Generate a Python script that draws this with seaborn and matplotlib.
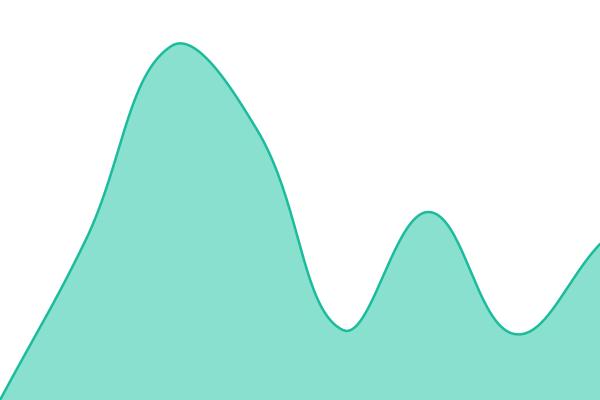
import numpy as np
import pandas as pd
import matplotlib
matplotlib.use("Agg")
import matplotlib.pyplot as plt
import seaborn as sns

# data (value axis 0..100, 8 evenly spaced points)
steps = [0, 1, 2, 3, 4, 5, 6, 7]
values = [0, 40, 88.5, 67.5, 17.5, 47, 16.5, 39]

line_color = "#1abc9c"
fill_color = "#8ae0cf"


def smooth(xs, ys, tension=0.4, n=40):
    # bezier spline through the points (control points weighted by pixel distance), for drawing only
    px = np.asarray(xs, float) * 600 / 7
    py = np.asarray(ys, float) * 4
    pts = np.column_stack([px, py])
    k = len(pts)
    ctrl_prev, ctrl_next = [], []
    for i in range(k):
        prev = pts[max(i - 1, 0)]
        cur = pts[i]
        nxt = pts[min(i + 1, k - 1)]
        d01 = np.hypot(*(cur - prev))
        d12 = np.hypot(*(nxt - cur))
        s01 = d01 / (d01 + d12)
        s12 = d12 / (d01 + d12)
        ctrl_prev.append(cur - tension * s01 * (nxt - prev))
        ctrl_next.append(cur + tension * s12 * (nxt - prev))
    out = []
    t = np.linspace(0, 1, n)[:, None]
    for i in range(k - 1):
        p1, c1, c2, p2 = pts[i], ctrl_next[i], ctrl_prev[i + 1], pts[i + 1]
        seg = ((1 - t) ** 3) * p1 + 3 * ((1 - t) ** 2) * t * c1 + 3 * (1 - t) * t ** 2 * c2 + t ** 3 * p2
        out.append(seg)
    out = np.vstack(out)
    return out[:, 0] * 7 / 600, out[:, 1] / 4


sx, sy = smooth(steps, values)
curve = pd.DataFrame({"step": sx, "value": sy})

sns.set_theme(style="white")
fig = plt.figure(figsize=(6, 4), dpi=100)
ax = fig.add_axes([0, 0, 1, 1])
ax.fill_between(curve["step"], curve["value"], 0, color=fill_color, linewidth=0)
sns.lineplot(data=curve, x="step", y="value", ax=ax, color=line_color, linewidth=1.8, sort=False)
ax.set_xlim(0, 7)
ax.set_ylim(0, 100)
ax.axis("off")

fig.savefig("out.png", dpi=100)
